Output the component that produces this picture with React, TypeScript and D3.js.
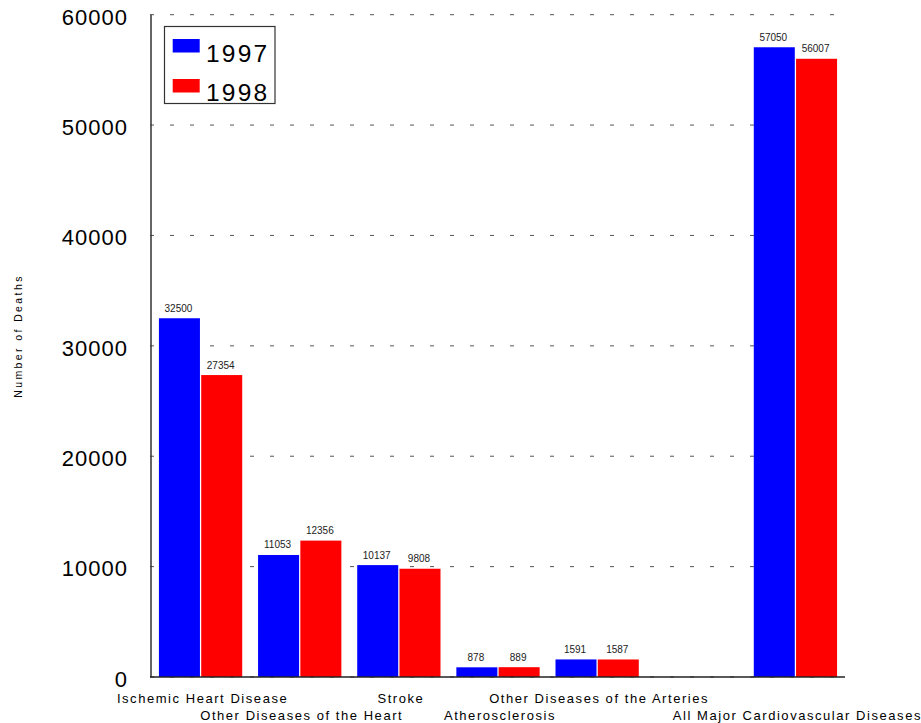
import React from "react";
import * as d3 from "d3";

const categories = [
  "Ischemic Heart Disease",
  "Other Diseases of the Heart",
  "Stroke",
  "Atherosclerosis",
  "Other Diseases of the Arteries",
  "",
  "All Major Cardiovascular Diseases",
];
const labelRows = [0, 1, 0, 1, 0, 0, 1];
const seriesNames = ["1997", "1998"];
const values1997 = [32500, 11053, 10137, 878, 1591, null, 57050];
const values1998 = [27354, 12356, 9808, 889, 1587, null, 56007];
const yTicks = [0, 10000, 20000, 30000, 40000, 50000, 60000];
const colors = ["#0000ff", "#ff0000"];

const W = 921;
const H = 723;
const left = 151;
const right = 845;
const top = 14.7;
const bottom = 677;
const FONT = "'Liberation Sans', Arial, sans-serif";

export default function App() {
  const y = d3.scaleLinear().domain([0, 60000]).range([bottom, top]);
  const x0 = d3
    .scaleBand<number>()
    .domain(categories.map((_, i) => i))
    .range([left, right])
    .paddingInner(0.16)
    .paddingOuter(0.08);
  const x1 = d3
    .scaleBand<string>()
    .domain(seriesNames)
    .range([0, x0.bandwidth()])
    .paddingInner(0.03);
  const series = [values1997, values1998];

  return (
    <svg
      width={W}
      height={H}
      style={{ position: "absolute", left: 0, top: 0, background: "#fff" }}
      fontFamily={FONT}
    >
      {yTicks.map((t) => (
        <line
          key={"g" + t}
          x1={150}
          x2={right}
          y1={y(t)}
          y2={y(t)}
          stroke="#555"
          strokeWidth={1}
          strokeDasharray="4 16"
        />
      ))}
      {categories.map((c, i) =>
        series.map((vals, s) => {
          const v = vals[i];
          if (v == null) return null;
          const bx = (x0(i) as number) + (x1(seriesNames[s]) as number);
          return (
            <g key={c + s}>
              <rect
                x={bx}
                y={y(v)}
                width={x1.bandwidth()}
                height={bottom - y(v)}
                fill={colors[s]}
              />
              <text
                x={bx + x1.bandwidth() / 2 - 1}
                y={y(v) - 6.5}
                textAnchor="middle"
                fontSize={10}
                fill="#222"
              >
                {v}
              </text>
            </g>
          );
        })
      )}
      <line x1={151} x2={151} y1={top} y2={bottom} stroke="#333" strokeWidth={1.5} />
      <line x1={150} x2={right} y1={bottom} y2={bottom} stroke="#222" strokeWidth={1.5} />
      {yTicks.map((t) => (
        <text
          key={"t" + t}
          x={128}
          y={y(t) + 4}
          dominantBaseline="middle"
          textAnchor="end"
          fontSize={22}
          letterSpacing={1}
          fill="#000"
        >
          {t}
        </text>
      ))}
      {categories.map((c, i) =>
        c ? (
          <text
            key={"x" + i}
            x={(x0(i) as number) + x0.bandwidth() / 2 + 2}
            y={labelRows[i] === 0 ? 703 : 720}
            textAnchor="middle"
            fontSize={13}
            letterSpacing={1.55}
            fill="#000"
          >
            {c}
          </text>
        ) : null
      )}
      <text
        transform={`translate(22,336) rotate(-90)`}
        textAnchor="middle"
        fontSize={10.5}
        letterSpacing={2.4}
        fill="#000"
      >
        Number of Deaths
      </text>
      <rect x={164.5} y={26.5} width={110.5} height={77} fill="#fff" stroke="#333" strokeWidth={1.2} />
      {seriesNames.map((n, s) => (
        <g key={"l" + n}>
          <rect x={172.7} y={39 + s * 40} width={27} height={13.5} fill={colors[s]} />
          <text x={206} y={62 + s * 38.5} fontSize={24.5} letterSpacing={2.2} fill="#000">
            {n}
          </text>
        </g>
      ))}
    </svg>
  );
}
